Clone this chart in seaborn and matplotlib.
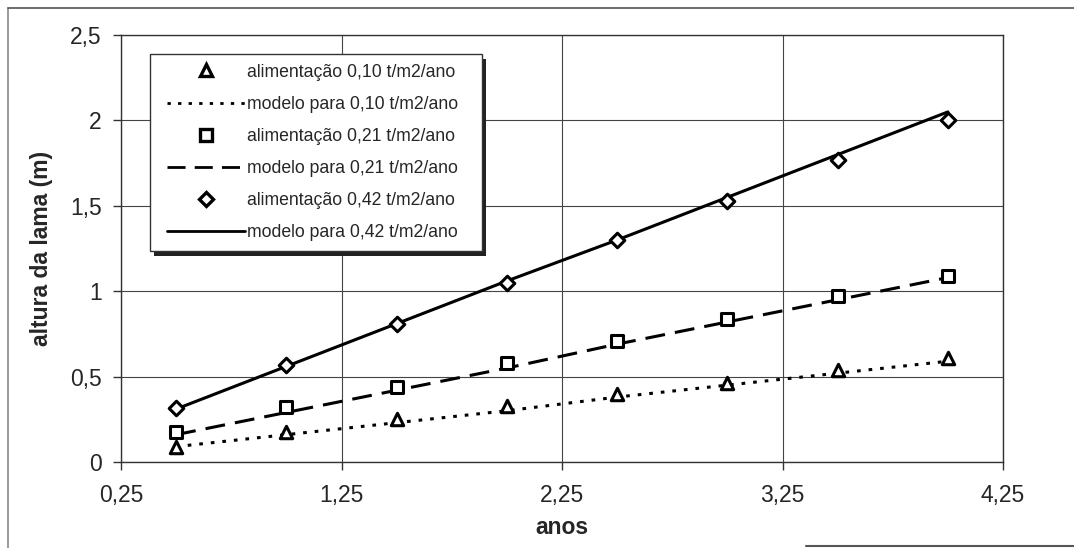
import matplotlib
matplotlib.use("Agg")
import matplotlib.pyplot as plt
import seaborn as sns
import pandas as pd
from matplotlib.ticker import FuncFormatter
from matplotlib.lines import Line2D
from matplotlib.patches import Rectangle

# --- dados ---
anos = [0.5, 1.0, 1.5, 2.0, 2.5, 3.0, 3.5, 4.0]

alim_010 = [0.09, 0.175, 0.25, 0.33, 0.40, 0.46, 0.54, 0.61]
modelo_010 = [0.09, 0.16, 0.23, 0.30, 0.38, 0.45, 0.52, 0.59]

alim_021 = [0.175, 0.32, 0.44, 0.58, 0.71, 0.84, 0.97, 1.09]
modelo_021 = [0.16, 0.29, 0.42, 0.55, 0.69, 0.82, 0.95, 1.08]

alim_042 = [0.315, 0.57, 0.81, 1.05, 1.30, 1.53, 1.77, 2.00]
modelo_042 = [0.31, 0.56, 0.81, 1.06, 1.30, 1.55, 1.80, 2.05]

xticks = [0.25, 1.25, 2.25, 3.25, 4.25]
yticks = [0, 0.5, 1, 1.5, 2, 2.5]

labels_alim = ["alimentação 0,10 t/m2/ano", "alimentação 0,21 t/m2/ano", "alimentação 0,42 t/m2/ano"]
labels_modelo = ["modelo para 0,10 t/m2/ano", "modelo para 0,21 t/m2/ano", "modelo para 0,42 t/m2/ano"]

sns.set_theme(style="white")
plt.rcParams["font.family"] = ["Liberation Sans", "DejaVu Sans"]

fig = plt.figure(figsize=(10.74, 5.48), dpi=100)
ax = fig.add_axes([0.1127, 0.157, 0.8212, 0.779])

marcadores = ["^", "s", "D"]
estilos = [(0, (1.2, 2.6)), (0, (6.5, 3.3)), "-"]
tamanhos = [80, 80, 55]

series_alim = [alim_010, alim_021, alim_042]
series_mod = [modelo_010, modelo_021, modelo_042]

handles = []
for i in range(3):
    df = pd.DataFrame({"anos": anos, "alim": series_alim[i], "modelo": series_mod[i]})
    sns.lineplot(data=df, x="anos", y="modelo", ax=ax, color="black",
                 linewidth=2.2, linestyle=estilos[i], zorder=2)
    sns.scatterplot(data=df, x="anos", y="alim", ax=ax, marker=marcadores[i],
                    s=tamanhos[i], facecolor="white", edgecolor="black",
                    linewidth=2.2, zorder=3)
    handles.append(Line2D([], [], linestyle="none", marker=marcadores[i],
                          markersize=9 if i < 2 else 7.5, markerfacecolor="white",
                          markeredgecolor="black", markeredgewidth=2.4,
                          label=labels_alim[i]))
    handles.append(Line2D([], [], color="black", linewidth=2.0,
                          linestyle=estilos[i], label=labels_modelo[i]))

ax.set_xlim(0.25, 4.25)
ax.set_ylim(0, 2.5)
ax.set_xticks(xticks)
ax.set_yticks(yticks)

fmt = FuncFormatter(lambda v, p: ("%g" % v).replace(".", ","))
ax.xaxis.set_major_formatter(fmt)
ax.yaxis.set_major_formatter(fmt)

ax.grid(True, color="#444444", linewidth=0.8)
ax.set_axisbelow(True)
for s in ax.spines.values():
    s.set_color("#333333")
    s.set_linewidth(1.0)

ax.tick_params(axis="both", which="major", length=6, width=1.0, color="#333333",
               direction="out", bottom=True, left=True, labelsize=16.5)
ax.tick_params(axis="x", pad=10)
ax.tick_params(axis="y", pad=8)

ax.set_xlabel("anos", fontsize=16.5, fontweight="bold", labelpad=6)
ax.set_ylabel("altura da lama (m)", fontsize=16.5, fontweight="bold", labelpad=12)

# caixa da legenda com sombra
x0, x1, y0, y1 = 0.0329, 0.409, 0.494, 0.9555
ax.add_patch(Rectangle((x0 + 0.005, y0 - 0.011), x1 - x0, y1 - y0, transform=ax.transAxes,
                       facecolor="#222222", edgecolor="none", zorder=5))
ax.add_patch(Rectangle((x0, y0), x1 - x0, y1 - y0, transform=ax.transAxes,
                       facecolor="white", edgecolor="#333333", linewidth=1.0, zorder=6))

leg = ax.legend(handles=handles, loc="center",
                bbox_to_anchor=((x0 + x1) / 2 - 0.004, (y0 + y1) / 2),
                frameon=False, fontsize=12.7,
                handlelength=4.4, handletextpad=0.1, labelspacing=0.86,
                borderpad=0.2)
leg.set_zorder(7)

# moldura externa do gráfico
fig.add_artist(Line2D([0.0075, 0.0075], [0.0, 0.985], color="#888888", linewidth=1.2, transform=fig.transFigure))
fig.add_artist(Line2D([0.0075, 1.0], [0.985, 0.985], color="#555555", linewidth=1.2, transform=fig.transFigure))
fig.add_artist(Line2D([0.75, 1.0], [0.004, 0.004], color="#555555", linewidth=1.5, transform=fig.transFigure))

fig.savefig("out.png", dpi=100)
